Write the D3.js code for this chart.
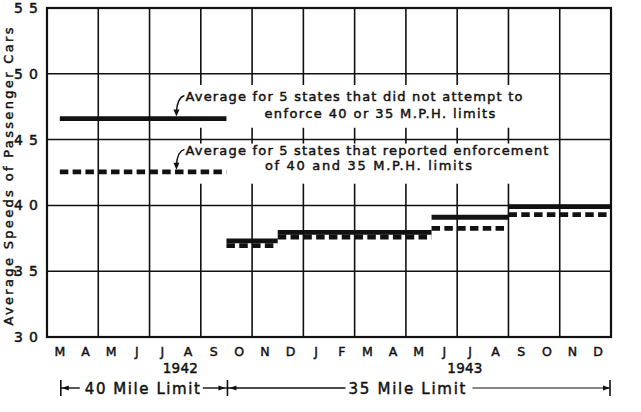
<!DOCTYPE html>
<html><head><meta charset="utf-8">
<script src="https://cdn.jsdelivr.net/npm/d3@7"></script>
<style>
body{margin:0;background:#fff}
svg{display:block}
text{font-family:"DejaVu Sans",sans-serif;fill:#111;stroke:#111;stroke-width:0.45px}
</style>
</head><body>
<svg id="c" width="641" height="412"></svg>
<script>
// ---- data ----
const months = ["M","A","M","J","J","A","S","O","N","D","J","F","M","A","M","J","J","A","S","O","N","D"];
const yearLabels = ["1942","1943"];
const yearPos = [5.2, 16.3];
const yTicks = [30,35,40,45,50,55];
const gridMonths = [2,4,6,8,10,12,14,16,18,20];
const segStart = [0.5, 7, 9, 15, 18];
const segEnd   = [7, 9, 15, 18, 22];
const noEnforce = [46.6, 37.3, 37.95, 39.1, 39.9];
const enforced  = [42.55, 36.95, 37.6, 38.25, 39.3];
const noteNoEnforce = ["Average for 5 states that did not attempt to","enforce 40 or 35 M.P.H. limits"];
const noteEnforce   = ["Average for 5 states that reported enforcement","of 40 and 35 M.P.H. limits"];
const limitLabels = ["40 Mile Limit","35 Mile Limit"];
const limitStart = [0.5, 7];
const limitEnd   = [7, 22];
const yTitle = "Average Speeds of Passenger Cars";

// ---- layout ----
const svg = d3.select("#c");
const L = 47, R = 611, T = 8, B = 337;
const x = d3.scaleLinear().domain([0, months.length]).range([L, R]);
const y = d3.scaleLinear().domain([30, 55]).range([B, T]);
const ink = "#111";

// grid
svg.append("g").selectAll("line").data(gridMonths).join("line")
  .attr("x1", d => x(d)).attr("x2", d => x(d)).attr("y1", T).attr("y2", B)
  .attr("stroke", ink).attr("stroke-width", 1.6);
svg.append("g").selectAll("line").data(yTicks.slice(1, -1)).join("line")
  .attr("x1", L).attr("x2", R).attr("y1", d => y(d)).attr("y2", d => y(d))
  .attr("stroke", ink).attr("stroke-width", 1.5);

// annotation backgrounds (break the grid like the original)
const nx = x(5.4);
const boxes = [
  {x0: x(5.0), x1: x(18.8), y0: y(49.15), y1: y(45.9)},
  {x0: x(5.0), x1: x(19.6), y0: y(44.7), y1: y(41.65)}
];
svg.append("g").selectAll("rect").data(boxes).join("rect")
  .attr("x", d => d.x0).attr("y", d => d.y0)
  .attr("width", d => d.x1 - d.x0).attr("height", d => d.y1 - d.y0)
  .attr("fill", "#fff");

// frame
svg.append("rect").attr("x", L).attr("y", T).attr("width", R - L).attr("height", B - T)
  .attr("fill", "none").attr("stroke", ink).attr("stroke-width", 2.2);

// data steps
const segs = (vals) => vals.map((v, i) => ({v, s: segStart[i], e: segEnd[i]}));
svg.append("g").selectAll("line").data(segs(enforced)).join("line")
  .attr("x1", d => x(d.s)).attr("x2", d => x(d.e))
  .attr("y1", d => y(d.v)).attr("y2", d => y(d.v))
  .attr("stroke", ink).attr("stroke-width", 4.8)
  .attr("stroke-dasharray", "8.5,4.3").attr("stroke-linecap", "butt");
svg.append("g").selectAll("line").data(segs(noEnforce)).join("line")
  .attr("x1", d => x(d.s)).attr("x2", d => x(d.e))
  .attr("y1", d => y(d.v)).attr("y2", d => y(d.v))
  .attr("stroke", ink).attr("stroke-width", 4.8).attr("stroke-linecap", "butt");

// y tick labels
svg.append("g").selectAll("text").data(yTicks).join("text")
  .attr("x", 14).attr("y", d => y(d) + 5)
  .attr("textLength", 24).attr("lengthAdjust", "spacing")
  .attr("font-size", 14).text(d => d);

// y title
svg.append("text")
  .attr("transform", `translate(13,${(T + B) / 2 + 4}) rotate(-90)`)
  .attr("text-anchor", "middle").attr("font-size", 13)
  .attr("textLength", 298).attr("lengthAdjust", "spacing")
  .text(yTitle);

// month labels
svg.append("g").selectAll("text").data(months).join("text")
  .attr("x", (d, i) => x(i + 0.5)).attr("y", 356)
  .attr("text-anchor", "middle").attr("font-size", 12.5).text(d => d);
svg.append("g").selectAll("text").data(yearLabels).join("text")
  .attr("x", (d, i) => x(yearPos[i])).attr("y", 373)
  .attr("text-anchor", "middle").attr("font-size", 13.5)
  .attr("textLength", 35).attr("lengthAdjust", "spacing").text(d => d);

// annotations
const notes = [
  {lines: noteNoEnforce, v: noEnforce[0], b1: y(47.9), b2: y(46.6) - 1, w: [337, 231], x2: x(8.48)},
  {lines: noteEnforce, v: enforced[0], b1: y(43.8), b2: y(42.55) - 1.5, w: [363, 207], x2: x(8.5)}
];
notes.forEach(n => {
  svg.append("text").attr("x", nx).attr("y", n.b1).attr("font-size", 13)
    .attr("textLength", n.w[0]).attr("lengthAdjust", "spacing").text(n.lines[0]);
  svg.append("text").attr("x", n.x2).attr("y", n.b2).attr("font-size", 13)
    .attr("textLength", n.w[1]).attr("lengthAdjust", "spacing").text(n.lines[1]);
  const ty = y(n.v) - 3;
  const sy = n.b1 - 6;
  svg.append("path")
    .attr("d", `M${nx - 1},${sy} Q${nx - 8},${sy + 2} ${nx - 9},${ty - 4}`)
    .attr("fill", "none").attr("stroke", ink).attr("stroke-width", 1.5);
  svg.append("path")
    .attr("d", `M${nx - 12},${ty - 6} L${nx - 9},${ty + 1} L${nx - 6},${ty - 6} Z`)
    .attr("fill", ink);
});

// limit bar
const ly = 388;
const gL = svg.append("g");
const arrow = (px, dir) => gL.append("path")
  .attr("d", `M${px},${ly} L${px - dir * 7},${ly - 2.6} L${px - dir * 7},${ly + 2.6} Z`).attr("fill", ink);
const tick = (px, h) => gL.append("line").attr("x1", px).attr("x2", px)
  .attr("y1", ly - h).attr("y2", ly + h).attr("stroke", ink).attr("stroke-width", 1.6);
// 40 mile
const a0 = x(limitStart[0]) + 1, a1 = x(limitEnd[0]) + 1, b1 = x(limitEnd[1]) - 1;
tick(a0, 8); arrow(a0 + 1, -1);
gL.append("line").attr("x1", a0).attr("x2", a0 + 19).attr("y1", ly).attr("y2", ly).attr("stroke", ink).attr("stroke-width", 1.4);
gL.append("text").attr("x", a0 + 24).attr("y", ly + 6).attr("font-size", 15)
  .attr("textLength", 115).attr("lengthAdjust", "spacing").text(limitLabels[0]);
gL.append("line").attr("x1", a0 + 142).attr("x2", a1).attr("y1", ly).attr("y2", ly).attr("stroke", ink).attr("stroke-width", 1.4);
arrow(a1 - 2, 1); tick(a1, 8); arrow(a1 + 2, -1);
// 35 mile
gL.append("line").attr("x1", a1).attr("x2", a1 + 118).attr("y1", ly).attr("y2", ly).attr("stroke", ink).attr("stroke-width", 1.4);
gL.append("text").attr("x", a1 + 121).attr("y", ly + 6).attr("font-size", 15)
  .attr("textLength", 117).attr("lengthAdjust", "spacing").text(limitLabels[1]);
gL.append("line").attr("x1", a1 + 245).attr("x2", b1).attr("y1", ly).attr("y2", ly).attr("stroke", ink).attr("stroke-width", 1.2);
arrow(b1, 1); tick(b1, 8);
</script>
</body></html>
